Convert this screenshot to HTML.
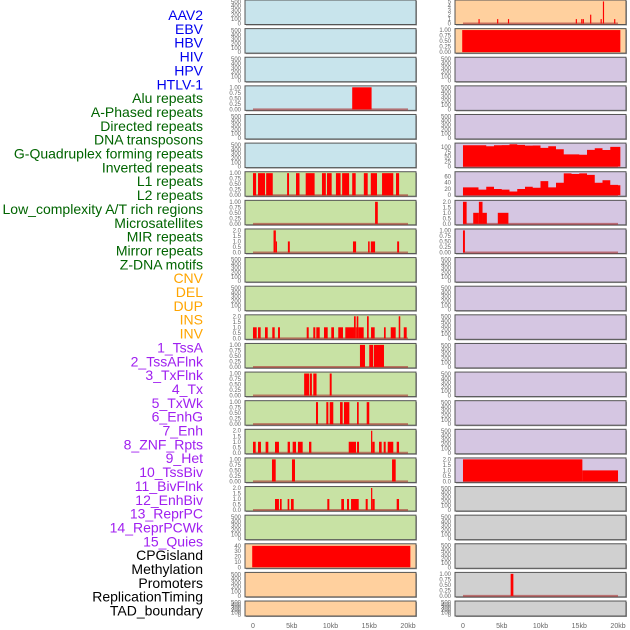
<!DOCTYPE html>
<html><head><meta charset="utf-8"><style>
html,body{margin:0;padding:0;background:#fff;width:630px;height:630px;overflow:hidden}
svg{display:block;font-family:"Liberation Sans",sans-serif}
</style></head><body>
<svg id="chart" width="630" height="630" viewBox="0 0 630 630" xmlns="http://www.w3.org/2000/svg"></svg>
<script>
// ---- data ----
const trackLabels = ["AAV2","EBV","HBV","HIV","HPV","HTLV-1","Alu repeats","A-Phased repeats","Directed repeats","DNA transposons","G-Quadruplex forming repeats","Inverted repeats","L1 repeats","L2 repeats","Low_complexity A/T rich regions","Microsatellites","MIR repeats","Mirror repeats","Z-DNA motifs","CNV","DEL","DUP","INS","INV","1_TssA","2_TssAFlnk","3_TxFlnk","4_Tx","5_TxWk","6_EnhG","7_Enh","8_ZNF_Rpts","9_Het","10_TssBiv","11_BivFlnk","12_EnhBiv","13_ReprPC","14_ReprPCWk","15_Quies","CPGisland","Methylation","Promoters","ReplicationTiming","TAD_boundary"];
const labelColors = ["#0000ee","#0000ee","#0000ee","#0000ee","#0000ee","#0000ee","#006400","#006400","#006400","#006400","#006400","#006400","#006400","#006400","#006400","#006400","#006400","#006400","#006400","#ffa500","#ffa500","#ffa500","#ffa500","#ffa500","#a020f0","#a020f0","#a020f0","#a020f0","#a020f0","#a020f0","#a020f0","#a020f0","#a020f0","#a020f0","#a020f0","#a020f0","#a020f0","#a020f0","#a020f0","#000","#000","#000","#000","#000"];
const xTicks = [0,5,10,15,20];
const xTickLabels = ["0","5kb","10kb","15kb","20kb"];
const ticksEmpty = [0,100,200,300,400,500];
const ticksOne = [0,0.25,0.5,0.75,1];
const ticksTwo = [0,0.5,1,1.5,2];
// interval tracks [startKb, endKb, value]
const leftAlu = [[12.8,15.3,1]];
const leftL1 = [[0,0.4,1],[0.65,1.55,1],[1.7,2.55,1],[4.4,4.65,1],[5.55,6.0,1],[6.8,7.95,1],[8.9,9.4,1],[9.55,10.15,1],[10.7,11.3,1],[11.5,12.4,1],[12.8,13.25,1],[14.3,14.8,1],[15.2,16.0,1],[16.65,18.1,1],[18.45,18.85,1]];
const leftRow7 = [[15.75,16.1,1]];
const leftRow8 = [[2.65,2.95,2],[2.95,3.1,1],[4.5,4.75,1],[12.9,13.3,1],[14.85,15.05,1],[15.2,15.75,1],[18.6,18.85,1]];
const leftRow11 = [[0,0.48,1],[0.65,0.99,1],[1.55,1.9,1],[2.49,2.8,1],[3.23,3.48,1],[6.93,7.19,1],[7.78,8.04,1],[8.17,8.61,1],[9.16,9.64,1],[10.1,10.45,1],[11.0,11.61,1],[11.91,13.03,1],[13.03,13.25,2],[13.25,13.38,1],[13.38,13.59,2],[13.59,14.28,1],[14.71,14.93,2],[15.23,15.7,1],[16.9,17.12,1],[17.77,18.41,1],[18.8,19.0,2],[19.45,19.83,1]];
const leftRow12 = [[13.8,14.45,1],[15.0,15.5,1],[15.6,16.9,1]];
const leftRow13 = [[6.6,7.26,1],[7.35,7.6,1],[7.78,8.2,1],[9.9,10.15,1]];
const leftRow14 = [[8.13,8.39,1],[9.46,9.72,1],[9.9,10.36,1],[11.23,11.57,1],[11.74,12.43,1],[13.42,13.64,1],[14.67,15.0,1]];
const leftRow15 = [[0,0.35,1],[0.65,1.03,1],[1.63,1.98,1],[2.84,3.35,1],[4.47,4.77,1],[5.12,5.55,1],[5.8,6.41,1],[7.23,7.53,1],[12.35,13.29,1],[13.42,13.68,1],[15.23,15.39,2],[15.39,15.7,1],[16.26,16.6,1],[16.86,17.12,1],[17.38,18.1,1],[18.54,18.84,1]];
const leftRow16 = [[2.45,2.93,1],[5.03,5.42,1],[17.94,18.41,1]];
const leftRow17 = [[2.84,3.35,1],[3.48,3.7,1],[4.47,4.68,1],[4.9,5.25,1],[9.59,9.85,1],[11.39,11.74,1],[12.13,12.39,1],[12.65,13.64,1],[14.54,14.8,1],[15.23,15.39,2],[15.39,15.7,1],[18.54,18.84,1]];
const leftCpg = [[-0.1,20.3,40]];
const rightRow0 = [[2.0,2.15,1],[4.4,4.55,1],[5.8,5.95,1],[14.55,14.7,1],[15.25,15.4,1],[15.45,15.6,1],[16.4,16.55,2],[17.75,17.9,1],[18.05,18.2,5],[19.5,19.65,1]];
const rightRow1 = [[-0.1,20.3,1]];
const rightRow7 = [[0,0.47,2],[1.32,2.05,1],[2.05,2.52,2],[2.52,3.08,1],[4.49,5.86,1]];
const rightRow8 = [[0,0.25,1]];
const rightRow16 = [[0,15.4,2],[15.4,20.0,1]];
const rightRow20 = [[6.15,6.5,1]];
// profile tracks, one value per kb (0..20)
const rightGquad = [108,108,108,103,108,109,113,110,106,107,95,103,88,62,62,60,85,93,84,100,100];
const rightInverted = [25,25,18,27,20,18,12,20,27,24,45,25,40,70,68,70,65,40,48,33,32];

const BLUE="#c8e4ec", GREEN="#c8e2a4", PEACH="#ffd09e", PURPLE="#d5c6e2", GRAY="#d0d0d0";
const E={ymax:520,ticks:ticksEmpty,labels:ticksEmpty.map(String)};
const ONE={ymax:1.02,ticks:ticksOne,labels:["0.00","0.25","0.50","0.75","1.00"]};
const TWO={ymax:2.04,ticks:ticksTwo,labels:["0.0","0.5","1.0","1.5","2.0"]};
function rowsFor(bgs, specs){return bgs.map((b,i)=>Object.assign({bg:b},specs[i]||E));}
const leftBgs=[BLUE,BLUE,BLUE,BLUE,BLUE,BLUE,GREEN,GREEN,GREEN,GREEN,GREEN,GREEN,GREEN,GREEN,GREEN,GREEN,GREEN,GREEN,GREEN,PEACH,PEACH,PEACH];
const rightBgs=[PEACH,PEACH,PURPLE,PURPLE,PURPLE,PURPLE,PURPLE,PURPLE,PURPLE,PURPLE,PURPLE,PURPLE,PURPLE,PURPLE,PURPLE,PURPLE,PURPLE,GRAY,GRAY,GRAY,GRAY,GRAY];
const leftSpecs={3:Object.assign({iv:leftAlu,name:'alu'},ONE),6:Object.assign({iv:leftL1,name:'l1'},ONE),7:Object.assign({iv:leftRow7,name:'microsat'},ONE),8:Object.assign({iv:leftRow8,name:'mir'},TWO),
 11:Object.assign({iv:leftRow11,name:'ins'},TWO),12:Object.assign({iv:leftRow12,name:'tssa'},ONE),13:Object.assign({iv:leftRow13,name:'txflnk'},ONE),14:Object.assign({iv:leftRow14,name:'txwk'},ONE),
 15:Object.assign({iv:leftRow15,name:'enh'},TWO),16:Object.assign({iv:leftRow16,name:'het'},ONE),17:Object.assign({iv:leftRow17,name:'bivflnk'},TWO),
 19:{iv:leftCpg,name:'cpg',ymax:42,ticks:[0,10,20,30,40],labels:["0","10","20","30","40"],nobase:true}};
const rightSpecs={0:{iv:rightRow0,name:'aav2',ymax:5.1,ticks:[0,1,2,3,4,5],labels:["0","1","2","3","4","5"]},1:Object.assign({iv:rightRow1,name:'ebv',nobase:true},ONE),
 5:{prof:rightGquad,name:'gquad',ymax:114,ticks:[0,25,50,75,100],labels:["0","25","50","75","100"]},
 6:{prof:rightInverted,name:'inverted',ymax:72,ticks:[0,20,40,60],labels:["0","20","40","60"]},
 7:Object.assign({iv:rightRow7,name:'lowcomplex'},TWO),8:Object.assign({iv:rightRow8,name:'mirror'},ONE),16:Object.assign({iv:rightRow16,name:'tssbiv'},TWO),20:Object.assign({iv:rightRow20,name:'promoters'},ONE)};

// ---- drawing ----
const NS="http://www.w3.org/2000/svg", svg=document.getElementById('chart');
function mk(tag,attrs,parent){const e=document.createElementNS(NS,tag);for(const k in attrs)e.setAttribute(k,attrs[k]);(parent||svg).appendChild(e);return e;}

trackLabels.forEach((t,i)=>{
  const e=mk('text',{x:203,y:15+i*13.85+5,'text-anchor':'end','font-size':14,fill:labelColors[i]});
  e.textContent=t;
  
  
});

function drawColumn(x0,x1,bgs,specs,side){
  const xs=k=>x0+(k+1.03)*(x1-x0)/22.06;
  bgs.forEach((bg,i)=>{
    const spec=Object.assign({bg:bg},specs[i]||E);
    const top=i*28.62, h=(i===21)?15:24.5, bot=top+h;
    const g=mk('g',{});
    
    
    mk('rect',{x:x0+1,y:top+1,width:x1-x0,height:h,fill:'#999'},g);
    mk('rect',{x:x0,y:top,width:x1-x0,height:h,fill:bg,stroke:'#555','stroke-width':1},g);
    const ys=v=>bot-1-v*(h-2)/spec.ymax;
    spec.ticks.forEach((t,j)=>{
      const tl=mk('text',{x:x0-4,y:ys(t)+2,'text-anchor':'end','font-size':6,fill:'#666'},g);
      tl.textContent=spec.labels[j];
      
      
    });
    if(spec.iv||spec.prof){
      if(!spec.nobase) mk('line',{x1:xs(0),x2:xs(20),y1:bot-1,y2:bot-1,stroke:'rgba(170,50,50,0.6)','stroke-width':2},g);
      if(spec.iv) spec.iv.forEach(d=>{
        const r=mk('rect',{x:xs(d[0]),y:ys(d[2]),width:Math.max(1,xs(d[1])-xs(d[0])),height:ys(0)-ys(d[2]),fill:'#ff0000'},g);
        
        
      });
      if(spec.prof){
        let p='M'+xs(0)+','+ys(0);
        spec.prof.forEach((v,k)=>{p+=' L'+xs(k)+','+ys(v)+' L'+xs(Math.min(k+1,20.3))+','+ys(v);});
        p+=' L'+xs(20.3)+','+ys(0)+' Z';
        const a=mk('path',{d:p,fill:'#ff0000'},g);
        
        
      }
    }
  });
  xTicks.forEach((t,j)=>{
    const e=mk('text',{x:xs(t),y:628,'text-anchor':'middle','font-size':7,fill:'#666'});
    e.textContent=xTickLabels[j];
    
    
  });
}
drawColumn(245,416,leftBgs,leftSpecs,'left');
drawColumn(455,626,rightBgs,rightSpecs,'right');
</script>
</body></html>
